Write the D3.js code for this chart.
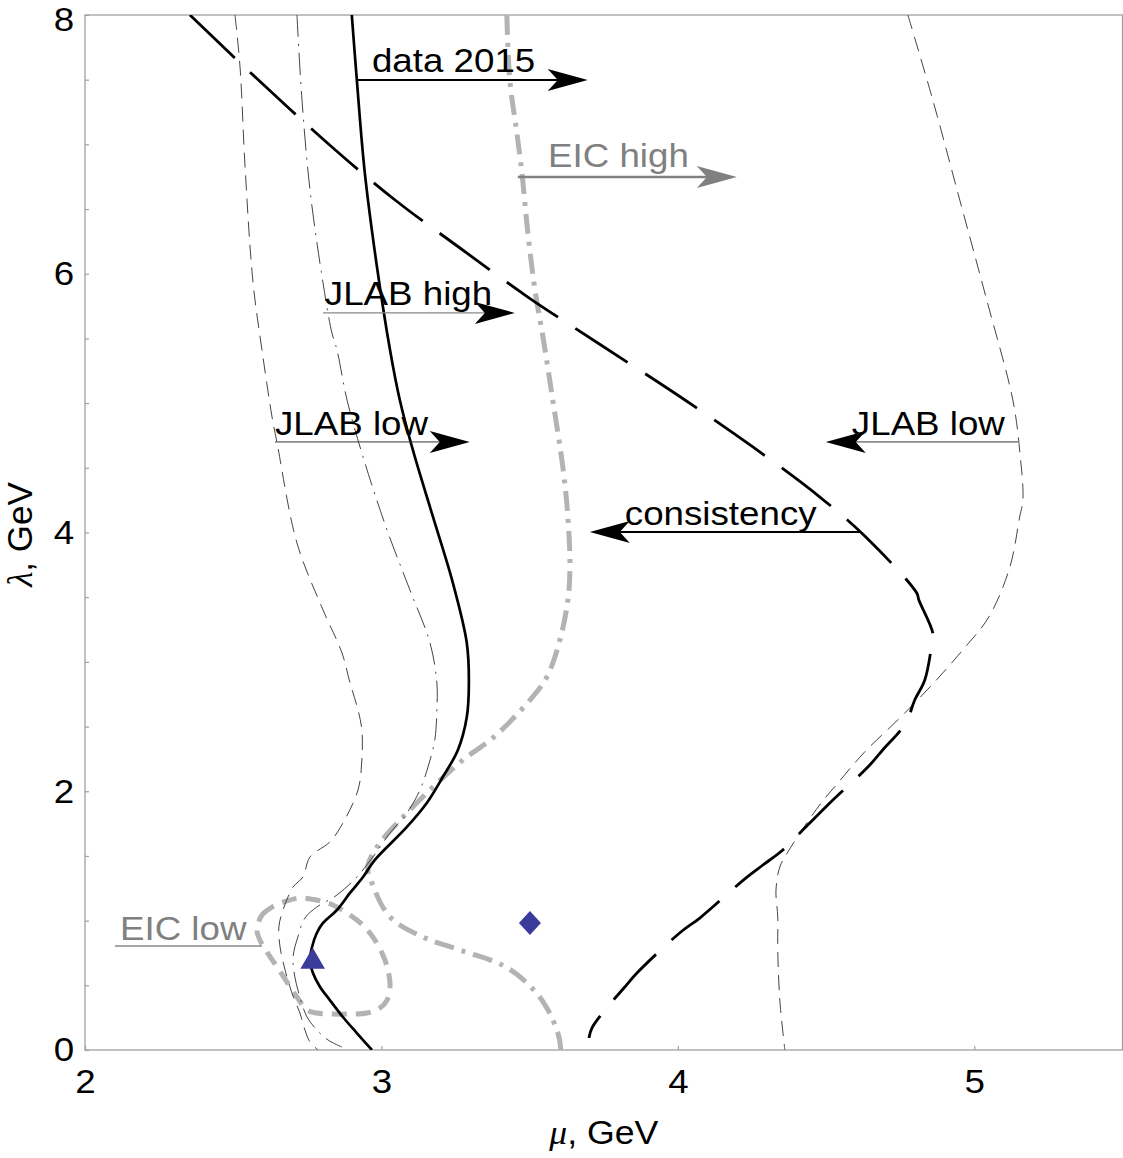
<!DOCTYPE html>
<html><head><meta charset="utf-8">
<script src="https://cdn.jsdelivr.net/npm/d3@7"></script>
<style>body{margin:0;background:#fff} svg{display:block}</style>
</head><body>
<svg id="chart" width="1123" height="1158"></svg>
<script>
// ---- data (mu, lambda) in GeV ----
const data2015 = [[2.900,8.000],[2.917,7.498],[2.944,6.779],[2.985,6.052],[3.029,5.411],[3.062,5.024],[3.106,4.638],[3.174,4.120],[3.241,3.610],[3.288,3.146],[3.295,2.837],[3.288,2.574],[3.258,2.319],[3.207,2.110],[3.153,1.909],[3.086,1.724],[2.978,1.469],[2.938,1.337],[2.894,1.214],[2.850,1.082],[2.803,0.982],[2.782,0.904],[2.766,0.796],[2.759,0.696],[2.769,0.595],[2.793,0.487],[2.826,0.386],[2.870,0.255],[2.917,0.131],[2.968,0.000]];
const consistency = [[2.354,8.000],[2.556,7.559],[2.833,6.980],[3.046,6.570],[3.265,6.199],[3.494,5.820],[3.730,5.465],[4.024,5.024],[4.253,4.661],[4.479,4.274],[4.634,3.965],[4.806,3.532],[4.813,3.478],[4.860,3.223],[4.857,3.146],[4.833,2.860],[4.799,2.705],[4.769,2.528],[4.691,2.319],[4.641,2.187],[4.530,1.948],[4.438,1.739],[4.354,1.546],[4.287,1.430],[4.229,1.329],[4.074,1.020],[4.010,0.912],[3.862,0.595],[3.818,0.479],[3.754,0.309],[3.710,0.170],[3.700,0.093]];
const jlabLowLeft = [[2.506,8.000],[2.523,7.598],[2.540,6.825],[2.567,5.929],[2.597,5.411],[2.631,4.893],[2.648,4.692],[2.715,3.919],[2.803,3.401],[2.867,3.069],[2.894,2.837],[2.921,2.628],[2.934,2.473],[2.934,2.242],[2.921,2.010],[2.870,1.755],[2.826,1.608],[2.759,1.492],[2.735,1.337],[2.702,1.260],[2.668,1.082],[2.654,0.951],[2.658,0.796],[2.675,0.618],[2.698,0.441],[2.725,0.286],[2.742,0.155],[2.759,0.062],[2.786,0.000]];
const jlabHighLeft = [[2.715,8.000],[2.732,7.343],[2.759,6.647],[2.803,5.929],[2.833,5.542],[2.850,5.411],[2.884,5.024],[2.938,4.584],[3.019,4.019],[3.096,3.556],[3.164,3.146],[3.187,2.837],[3.187,2.628],[3.180,2.396],[3.157,2.187],[3.130,2.010],[3.086,1.832],[3.029,1.677],[2.971,1.492],[2.917,1.337],[2.850,1.198],[2.782,1.105],[2.742,1.020],[2.718,0.873],[2.702,0.719],[2.708,0.564],[2.725,0.410],[2.749,0.255],[2.782,0.155],[2.820,0.077],[2.867,0.023]];
const jlabLowRight = [[4.776,8.000],[4.860,7.343],[4.951,6.570],[5.042,5.797],[5.130,5.024],[5.153,4.638],[5.164,4.251],[5.153,4.120],[5.120,3.733],[5.049,3.347],[4.961,3.092],[4.863,2.837],[4.752,2.574],[4.627,2.296],[4.540,2.064],[4.486,1.917],[4.435,1.755],[4.371,1.530],[4.344,1.415],[4.331,1.237],[4.337,1.028],[4.337,0.773],[4.344,0.386],[4.361,0.000]];
const eicHigh = [[3.423,8.000],[3.433,7.498],[3.457,7.088],[3.474,6.779],[3.494,6.315],[3.518,5.874],[3.545,5.511],[3.578,5.024],[3.612,4.506],[3.629,4.120],[3.636,3.733],[3.629,3.478],[3.602,3.169],[3.558,2.883],[3.501,2.705],[3.376,2.412],[3.275,2.242],[3.174,2.033],[3.073,1.801],[2.985,1.569],[2.954,1.415],[2.968,1.291],[3.029,1.028],[3.140,0.873],[3.265,0.773],[3.420,0.642],[3.514,0.464],[3.562,0.309],[3.599,0.100],[3.605,0.000]];
const eicLow = [[2.580,0.928],[2.597,1.043],[2.631,1.105],[2.681,1.152],[2.725,1.175],[2.782,1.159],[2.836,1.121],[2.894,1.043],[2.944,0.951],[2.978,0.850],[3.005,0.734],[3.022,0.618],[3.029,0.487],[3.019,0.386],[2.995,0.325],[2.951,0.286],[2.894,0.278],[2.836,0.278],[2.782,0.286],[2.749,0.309],[2.715,0.410],[2.681,0.526],[2.648,0.642],[2.614,0.757],[2.590,0.850]];
const triPoint = [2.768, 0.683];
const diamondPoint = [3.501, 0.982];

// annotations
const annotLabels = ["data 2015","EIC high","JLAB high","JLAB low","JLAB low","consistency","EIC low"];
const annotTextAt = [[2.968,7.56],[3.562,6.825],[2.809,5.758],[2.641,4.754],[4.587,4.754],[3.821,4.058],[2.118,0.850]];
const annotFrom = [[2.917,7.498],[3.460,6.748],[2.803,5.697],[2.641,4.700],[5.147,4.700],[4.614,4.004],[2.101,0.804]];
const annotTo = [[3.696,7.498],[4.199,6.748],[3.450,5.697],[3.298,4.700],[4.499,4.700],[3.703,4.004],[2.597,0.804]];
const annotHasHead = [true,true,true,true,true,true,false];

const xTicks = [2,3,4,5];
const yTicks = [0,0.5,1,1.5,2,2.5,3,3.5,4,4.5,5,5.5,6,6.5,7,7.5,8];
const yLabels = [0,2,4,6,8];

// ---- layout ----
const svg = d3.select("#chart");
const L = 85, R = 1122.5, T = 15, B = 1050;
const x = d3.scaleLinear().domain([2,5.5]).range([L,R]);
const y = d3.scaleLinear().domain([0,8]).range([B,T]);
const SX = 1.08;
const sans = "'Liberation Sans', Arial, sans-serif";

svg.append("defs").append("clipPath").attr("id","clip")
  .append("rect").attr("x",L).attr("y",T).attr("width",R-L).attr("height",B-T);

// frame
svg.append("rect").attr("x",L).attr("y",T).attr("width",R-L).attr("height",B-T)
  .attr("fill","none").attr("stroke","#a0a0a0").attr("stroke-width",1.3);

// axes
const ax = svg.append("g").attr("transform",`translate(0,${B})`)
  .call(d3.axisBottom(x).tickValues(xTicks).tickSize(-4).tickPadding(19).tickFormat(d3.format("d")));
const ay = svg.append("g").attr("transform",`translate(${L},0)`)
  .call(d3.axisLeft(y).tickValues(yTicks).tickSize(-4).tickPadding(10)
    .tickFormat(d => yLabels.includes(d) ? d3.format("d")(d) : ""));
[ax, ay].forEach(a => {
  a.select(".domain").remove();
  a.selectAll(".tick line").attr("stroke","#a0a0a0").attr("stroke-width",1.2);
  a.selectAll(".tick text").attr("font-family",sans).attr("font-size",34).attr("fill","#000")
    .attr("transform",`scale(${SX},1)`);
});
ax.selectAll(".tick text").attr("x",0);
// keep the top label inside the picture
ay.selectAll(".tick text").filter(d => d === 8).attr("dy","0.47em");

// axis titles
const xt = svg.append("text").attr("transform",`translate(${(L+R)/2},1144) scale(${SX},1)`)
  .attr("text-anchor","middle").attr("font-family",sans).attr("font-size",33);
xt.append("tspan").attr("font-family","'Liberation Serif', 'Times New Roman', serif").attr("font-style","italic").text("μ");
xt.append("tspan").text(", GeV");
const yt = svg.append("text").attr("transform",`translate(32,${(T+B)/2+2}) rotate(-90)`)
  .attr("text-anchor","middle").attr("font-family",sans).attr("font-size",35);
yt.append("tspan").attr("font-family","'Liberation Serif', 'Times New Roman', serif").attr("font-style","italic").text("λ");
yt.append("tspan").text(", GeV");

// curves
const g = svg.append("g").attr("clip-path","url(#clip)");
const line = d3.line().x(d => x(d[0])).y(d => y(d[1])).curve(d3.curveCatmullRom.alpha(0.5));
const lineClosed = d3.line().x(d => x(d[0])).y(d => y(d[1])).curve(d3.curveCatmullRomClosed.alpha(0.5));

const curveDefs = [
  {d: eicHigh, color:"#b3b3b3", w:5, dash:"20,8,4,8", gen: line},
  {d: eicLow, color:"#b3b3b3", w:5, dash:"15,9", gen: lineClosed},
  {d: jlabLowLeft, color:"#444", w:1, dash:"15,8", gen: line},
  {d: jlabHighLeft, color:"#444", w:1, dash:"22,7,2,7", gen: line},
  {d: jlabLowRight, color:"#444", w:1, dash:"15,8", gen: line},
  {d: consistency, color:"#000", w:2.8, dash:"62,21", gen: line},
  {d: data2015, color:"#000", w:2.7, dash:null, gen: line}
];
curveDefs.forEach(c => {
  g.append("path").attr("d", c.gen(c.d)).attr("fill","none")
    .attr("stroke",c.color).attr("stroke-width",c.w)
    .attr("stroke-dasharray",c.dash).attr("stroke-linejoin","round");
});

// markers
const mk = "#3b3b9b";
svg.append("path").attr("d", d3.symbol(d3.symbolTriangle, 260)())
  .attr("transform",`translate(${x(triPoint[0])},${y(triPoint[1])})`).attr("fill",mk);
svg.append("path").attr("d","M0,-12 L11,0 L0,12 L-11,0 Z")
  .attr("transform",`translate(${x(diamondPoint[0])},${y(diamondPoint[1])})`).attr("fill",mk);

// annotations
const annColors = {text:["#000","#808080","#000","#000","#000","#000","#808080"],
  line:["#000","#808080","#888","#333","#333","#000","#888"],
  lw:[2,2.5,1.3,1,1,2,1.3],
  head:["#000","#808080","#000","#000","#000","#000","#000"]};
const an = svg.append("g");
annotLabels.forEach((lab,i) => {
  const x1 = x(annotFrom[i][0]), x2 = x(annotTo[i][0]), yy = y(annotFrom[i][1]);
  const dir = Math.sign(x2 - x1);
  const lineEnd = annotHasHead[i] ? x2 - dir*30 : x2;
  an.append("line").attr("x1",x1).attr("x2",lineEnd).attr("y1",yy).attr("y2",yy)
    .attr("stroke",annColors.line[i]).attr("stroke-width",annColors.lw[i]);
  if (annotHasHead[i]) {
    an.append("path").attr("d",`M${x2},${yy} L${x2-dir*40},${yy-11} L${x2-dir*30},${yy} L${x2-dir*40},${yy+11} Z`)
      .attr("fill",annColors.head[i]);
  }
  an.append("text").attr("transform",`translate(${x(annotTextAt[i][0])},${y(annotTextAt[i][1])}) scale(${SX},1)`)
    .attr("font-family",sans).attr("font-size",34).attr("fill",annColors.text[i]).text(lab);
});
</script>
</body></html>
